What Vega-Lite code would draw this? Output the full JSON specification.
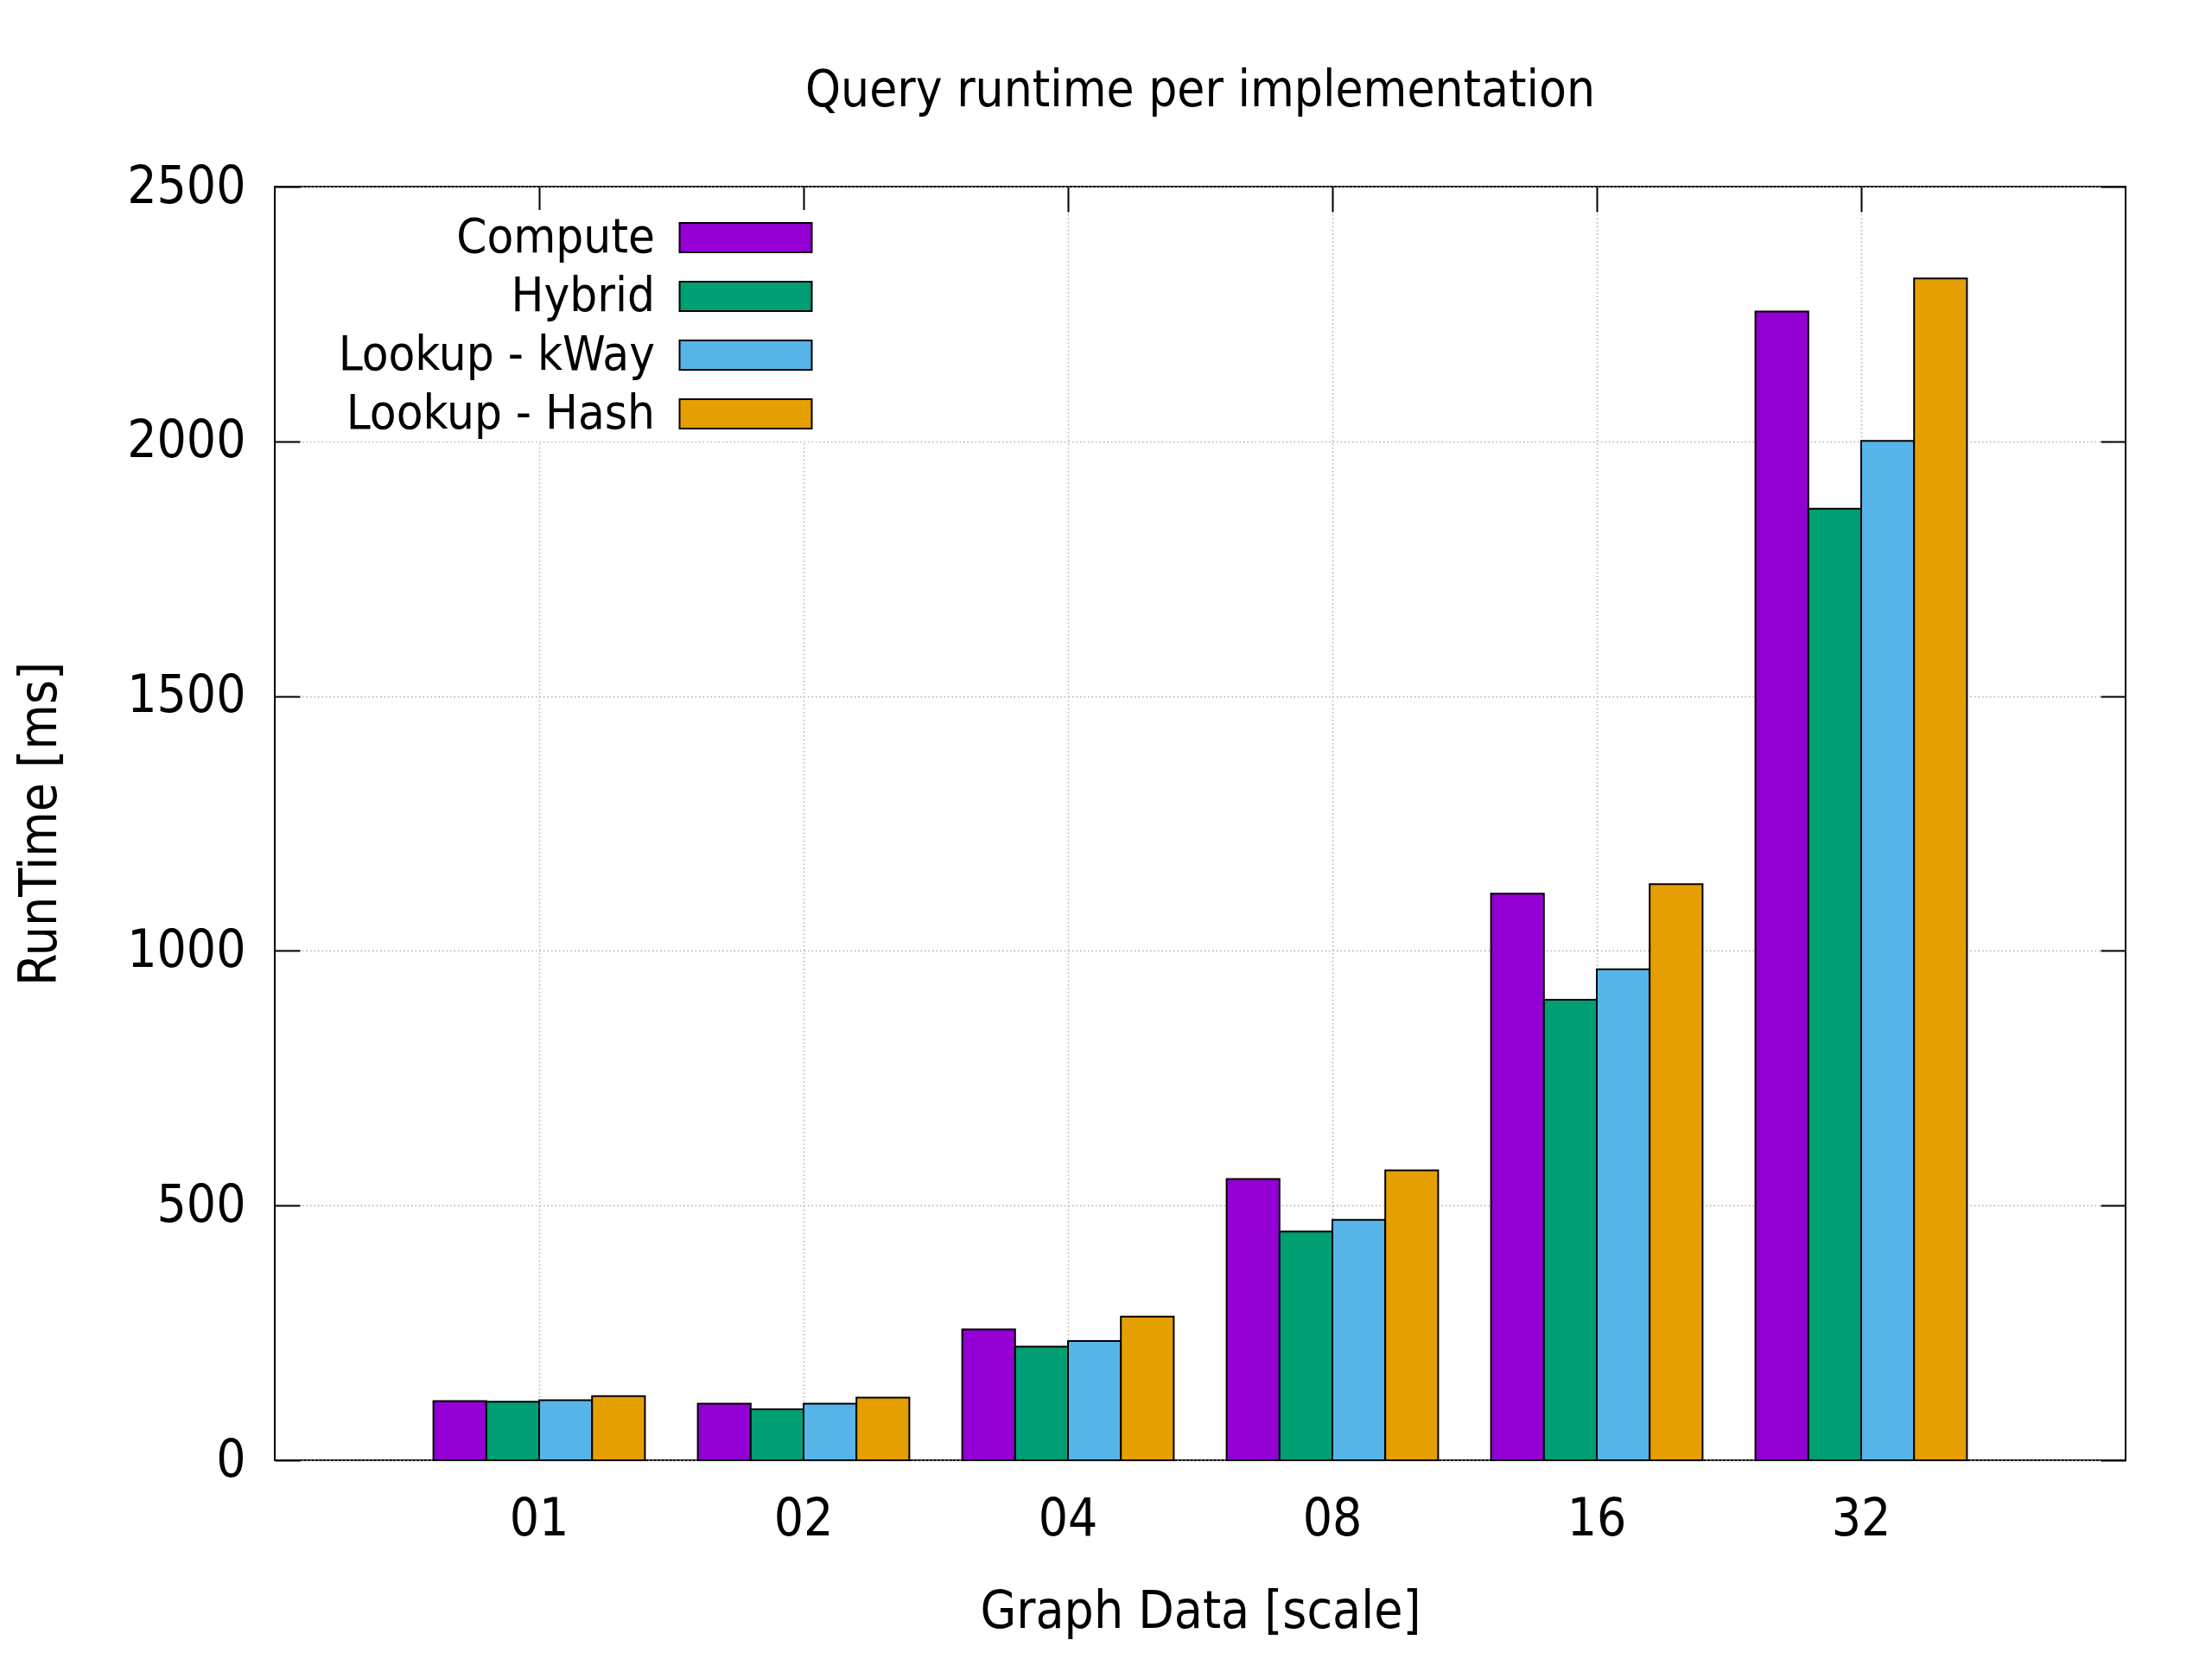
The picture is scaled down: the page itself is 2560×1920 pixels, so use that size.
{
  "$schema": "https://vega.github.io/schema/vega-lite/v6.json",
  "width": 2142,
  "height": 1474,
  "autosize": {"type": "none"},
  "padding": {"left": 318, "top": 216, "right": 100, "bottom": 230},
  "background": "white",
  "title": {
    "text": "Query runtime per implementation",
    "fontSize": 58,
    "fontWeight": "normal",
    "baseline": "alphabetic",
    "offset": 5,
    "anchor": "middle",
    "color": "black"
  },
  "data": {
    "values": [
      {"scale": "01", "impl": "Compute", "runtime": 116},
      {"scale": "01", "impl": "Hybrid", "runtime": 115},
      {"scale": "01", "impl": "Lookup - kWay", "runtime": 118},
      {"scale": "01", "impl": "Lookup - Hash", "runtime": 126},
      {"scale": "02", "impl": "Compute", "runtime": 111},
      {"scale": "02", "impl": "Hybrid", "runtime": 100},
      {"scale": "02", "impl": "Lookup - kWay", "runtime": 111},
      {"scale": "02", "impl": "Lookup - Hash", "runtime": 123},
      {"scale": "04", "impl": "Compute", "runtime": 257},
      {"scale": "04", "impl": "Hybrid", "runtime": 223},
      {"scale": "04", "impl": "Lookup - kWay", "runtime": 234},
      {"scale": "04", "impl": "Lookup - Hash", "runtime": 282},
      {"scale": "08", "impl": "Compute", "runtime": 552},
      {"scale": "08", "impl": "Hybrid", "runtime": 449},
      {"scale": "08", "impl": "Lookup - kWay", "runtime": 472},
      {"scale": "08", "impl": "Lookup - Hash", "runtime": 569},
      {"scale": "16", "impl": "Compute", "runtime": 1112},
      {"scale": "16", "impl": "Hybrid", "runtime": 904},
      {"scale": "16", "impl": "Lookup - kWay", "runtime": 964},
      {"scale": "16", "impl": "Lookup - Hash", "runtime": 1131},
      {"scale": "32", "impl": "Compute", "runtime": 2255},
      {"scale": "32", "impl": "Hybrid", "runtime": 1868},
      {"scale": "32", "impl": "Lookup - kWay", "runtime": 2001},
      {"scale": "32", "impl": "Lookup - Hash", "runtime": 2320}
    ]
  },
  "layer": [
    {
      "mark": {"type": "bar", "stroke": "black", "strokeWidth": 2},
      "encoding": {
        "x": {
          "field": "scale",
          "type": "nominal",
          "sort": ["01", "02", "04", "08", "16", "32"],
          "scale": {"paddingInner": 0.2, "paddingOuter": 0.6},
          "axis": {
            "orient": "bottom",
            "title": "Graph Data [scale]",
            "labelAngle": 0,
            "labelFontSize": 60,
            "labelPadding": 68,
            "titleFontSize": 60,
            "titleFontWeight": "normal",
            "titlePadding": 48,
            "tickSize": -29,
            "tickWidth": 2,
            "tickColor": "black",
            "domain": false,
            "grid": true,
            "bandPosition": 0.5,
            "gridDash": [1.5, 3],
            "gridColor": "#b0b0b0",
            "gridWidth": 1.5
          }
        },
        "xOffset": {
          "field": "impl",
          "type": "nominal",
          "sort": ["Compute", "Hybrid", "Lookup - kWay", "Lookup - Hash"],
          "scale": {"paddingInner": 0, "paddingOuter": 0}
        },
        "y": {
          "field": "runtime",
          "type": "quantitative",
          "scale": {"domain": [0, 2500], "nice": false},
          "axis": {
            "orient": "left",
            "title": "RunTime [ms]",
            "values": [0, 500, 1000, 1500, 2000, 2500],
            "format": "d",
            "labelFontSize": 60,
            "labelPadding": 63,
            "titleFontSize": 60,
            "titleFontWeight": "normal",
            "titlePadding": 69,
            "tickSize": -29,
            "tickWidth": 2,
            "tickColor": "black",
            "domain": false,
            "grid": true,
            "gridDash": [1.5, 3],
            "gridColor": "#b0b0b0",
            "gridWidth": 1.5
          }
        },
        "fill": {
          "field": "impl",
          "type": "nominal",
          "sort": ["Compute", "Hybrid", "Lookup - kWay", "Lookup - Hash"],
          "scale": {
            "domain": ["Compute", "Hybrid", "Lookup - kWay", "Lookup - Hash"],
            "range": ["#9400d3", "#009e73", "#56b4e9", "#e69f00"]
          },
          "legend": {
            "orient": "none",
            "legendX": 31,
            "legendY": 27,
            "title": null,
            "fillColor": "white",
            "padding": 4,
            "labelFontSize": 56,
            "labelColor": "black",
            "labelAlign": "right",
            "labelOffset": -133,
            "labelLimit": 1000,
            "symbolOffset": 482,
            "symbolType": "M-4,-0.888H4V0.888H-4Z",
            "symbolSize": 1463,
            "symbolStrokeColor": "black",
            "symbolStrokeWidth": 2,
            "symbolOpacity": 1,
            "rowPadding": 12
          }
        }
      }
    },
    {
      "mark": {"type": "bar", "opacity": 0},
      "encoding": {
        "x": {
          "field": "scale",
          "type": "nominal",
          "sort": ["01", "02", "04", "08", "16", "32"],
          "axis": {
            "orient": "top",
            "title": null,
            "labels": false,
            "tickSize": -29,
            "tickWidth": 2,
            "tickColor": "black",
            "bandPosition": 0.5,
            "domain": false,
            "grid": false
          }
        },
        "xOffset": {
          "field": "impl",
          "type": "nominal",
          "sort": ["Compute", "Hybrid", "Lookup - kWay", "Lookup - Hash"]
        },
        "y": {
          "field": "runtime",
          "type": "quantitative",
          "axis": {
            "orient": "right",
            "title": null,
            "labels": false,
            "values": [0, 500, 1000, 1500, 2000, 2500],
            "tickSize": -29,
            "tickWidth": 2,
            "tickColor": "black",
            "domain": false,
            "grid": false
          }
        }
      }
    }
  ],
  "resolve": {"axis": {"x": "independent", "y": "independent"}},
  "config": {
    "font": "DejaVu Sans Condensed, DejaVu Sans",
    "view": {"stroke": "black", "strokeWidth": 2},
    "axis": {"labelColor": "black", "titleColor": "black"}
  }
}
